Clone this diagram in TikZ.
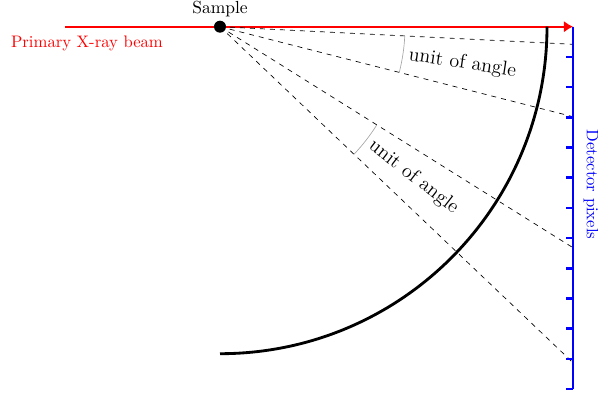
\documentclass[tikz,border=0pt]{standalone}
\usepackage{tikz}
\usetikzlibrary{arrows.meta, positioning}

\begin{document}
\begin{tikzpicture}[
    x=0.6pt, y=0.6pt,
    beam/.style={draw=red, line width=1.3pt, -{Latex[length=5.5pt, width=7pt]}},
    ray/.style={draw, dashed, thin},
    anglearc/.style={draw=gray!70, thin},
    anglelabel/.style={anchor=west, inner sep=1pt, font=\fontsize{12}{14}\selectfont},
    detector/.style={draw=blue, line width=1.6pt},
]
    \useasboundingbox (-220,-366.3) rectangle (378,26.7);
    \coordinate (sample) at (0,0);
    \coordinate (beamstart) at (-155,0);
    \coordinate (beamend) at (353,0);
    \coordinate (dettop) at (353,0);
    \coordinate (detbottom) at (353,-362.5);
    \coordinate (hit1) at (353,-17.6);
    \coordinate (hit2) at (353,-90);
    \coordinate (hit3) at (353,-221);
    \coordinate (hit4) at (353,-336);

    \draw[beam] (beamstart) -- (beamend);
    \node[red] (beamlabel) at (-133,-16.3) {Primary X-ray beam};

    \draw[ray] (sample) -- (hit1);
    \draw[ray] (sample) -- (hit2);
    \draw[ray] (sample) -- (hit3);
    \draw[ray] (sample) -- (hit4);

    \draw[anglearc] (sample) ++(-2.85:185) arc (-2.85:-14.3:185);
    \draw[anglearc] (sample) ++(-32.1:185) arc (-32.1:-43.6:185);
    \node[anglelabel, rotate=-8.6] (angle1) at (-8.6:189) {unit of angle};
    \node[anglelabel, rotate=-37.85] (angle2) at (-37.85:189) {unit of angle};

    \draw[detector] (dettop) -- (detbottom);
    \foreach \k in {1,...,12}
        \draw[detector] (353,{-30.2*\k}) -- ++(-7,0);
    \node[blue, rotate=-90] (detlabel) at (371,-157.8) {Detector pixels};

    \draw[line width=1.7pt] (0,-327) arc (-90:0:327);

    \node[circle, fill, inner sep=0pt, minimum size=7.2pt] (sampledot) at (sample) {};
    \node[above=-1.2pt of sampledot, font=\fontsize{10.5}{12}\selectfont] (samplelabel) {Sample};
\end{tikzpicture}
\end{document}
